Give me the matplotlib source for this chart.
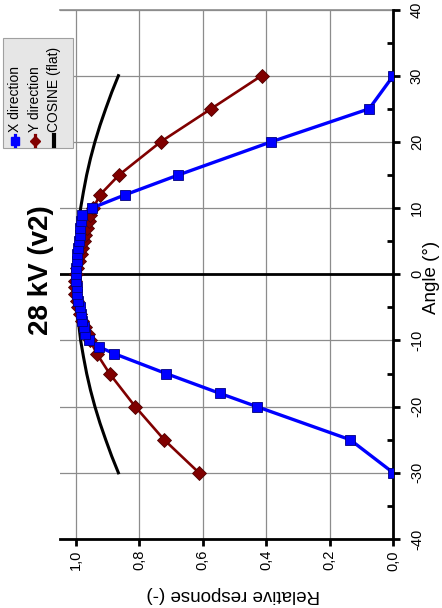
import numpy as np
import matplotlib.pyplot as plt
from matplotlib.lines import Line2D
from matplotlib.patches import Rectangle
from matplotlib.ticker import MultipleLocator, FuncFormatter

plt.rcParams['font.family'] = ['Liberation Sans', 'DejaVu Sans']
plt.rcParams['axes.unicode_minus'] = False

# X direction (blue squares)
x_angle = [-30, -25, -20, -18, -15, -12, -11, -10, -9, -8, -7, -6, -5, -4, -3, -2, -1, 0,
           1, 2, 3, 4, 5, 6, 7, 8, 9, 10, 12, 15, 20, 25, 30]
x_resp = [0.0, 0.136, 0.43, 0.546, 0.716, 0.879, 0.926, 0.96, 0.97, 0.975, 0.98, 0.985, 0.988,
          0.992, 0.995, 0.997, 0.999, 1.0, 0.999, 0.997, 0.995, 0.993, 0.99, 0.988, 0.986,
          0.984, 0.981, 0.95, 0.845, 0.677, 0.385, 0.076, 0.0]

# Y direction (dark red diamonds)
y_angle = [-30, -25, -20, -15, -12, -10, -9, -8, -7, -6, -5, -4, -3, -2, -1, 0,
           1, 2, 3, 4, 5, 6, 7, 8, 9, 10, 12, 15, 20, 25, 30]
y_resp = [0.612, 0.722, 0.813, 0.894, 0.934, 0.955, 0.963, 0.972, 0.98, 0.987, 0.993, 0.998,
          1.002, 1.004, 1.003, 1.0, 0.995, 0.99, 0.985, 0.98, 0.975, 0.97, 0.965, 0.96,
          0.955, 0.945, 0.924, 0.864, 0.733, 0.574, 0.415]

# COSINE (flat)
cos_angle = [-30, -27.5, -25, -22.5, -20, -17.5, -15, -12.5, -10, -7.5, -5, -2.5, 0,
             2.5, 5, 7.5, 10, 12.5, 15, 17.5, 20, 22.5, 25, 27.5, 30]
cos_resp = [0.866, 0.887, 0.906, 0.924, 0.940, 0.954, 0.966, 0.976, 0.985, 0.991, 0.996, 0.999, 1.0,
            0.999, 0.996, 0.991, 0.985, 0.976, 0.966, 0.954, 0.940, 0.924, 0.906, 0.887, 0.866]

W, H = 442, 608
fig = plt.figure(figsize=(W / 100, H / 100), dpi=100)
ax = fig.add_axes([60 / W, 1 - 539 / H, 333.3 / W, 529.5 / H])

# chart is drawn turned a quarter: angle runs up, response runs right-to-left
ax.plot(cos_resp, cos_angle, color='black', lw=2.2, zorder=3)
ax.plot(y_resp, y_angle, color='#800000', lw=1.9, marker='D', ms=6.8,
        mfc='#800000', mec='#500000', mew=0.6, zorder=4)
ax.plot(x_resp, x_angle, color='#0000ff', lw=2.4, marker='s', ms=6.5,
        mfc='#0000ff', mec='#000080', mew=0.6, zorder=5)
ax.axhline(0, color='black', lw=2, zorder=2)

ax.set_xlim(1.05, 0)
ax.set_ylim(-40, 40)

ax.xaxis.set_major_locator(MultipleLocator(0.2))
ax.xaxis.set_major_formatter(FuncFormatter(lambda v, p: f'{v:.1f}'.replace('.', ',')))
ax.yaxis.set_major_locator(MultipleLocator(10))
ax.yaxis.set_minor_locator(MultipleLocator(5))
ax.yaxis.tick_right()

ax.grid(True, which='major', color='#8c8c8c', lw=0.9, zorder=1)

for s in ['left', 'top']:
    ax.spines[s].set_visible(False)
ax.spines['bottom'].set_linewidth(2)
ax.spines['right'].set_linewidth(2)
ax.spines['right'].set_position(('data', 0))
ax.axhline(40, color='#8c8c8c', lw=1.2, clip_on=False, zorder=1)

ax.tick_params(axis='x', which='major', direction='out', length=5, width=2,
               labelsize=10.5, labelrotation=90, pad=3)
ax.tick_params(axis='y', which='major', direction='out', length=5, width=2,
               labelsize=10.5, labelrotation=90, pad=7)
ax.tick_params(axis='y', which='minor', direction='in', length=4.5, width=2)
for lab in ax.get_yticklabels():
    lab.set_va('center')

fig.text(233 / W, 1 - 595 / H, 'Relative response (-)', rotation=180,
         ha='center', va='center', fontsize=13.5)
fig.text(432 / W, 1 - 277 / H, 'Angle (°)', rotation=90,
         ha='center', va='center', fontsize=13.5)
fig.text(41 / W, 1 - 270 / H, '28 kV (v2)', rotation=90, ha='center', va='center',
         fontsize=20, fontweight='bold')

# legend box, drawn turned like the chart
fig.add_artist(Rectangle((3 / W, 1 - 148 / H), 70 / W, 110 / H, transform=fig.transFigure,
                         facecolor='#e6e6e6', edgecolor='#a0a0a0', lw=0.8, zorder=6))
entries = [('X direction', '#0000ff', 's', 15), ('Y direction', '#800000', 'D', 35),
           ('COSINE (flat)', 'black', None, 54)]
for label, col, mk, xp in entries:
    fig.add_artist(Line2D([xp / W, xp / W], [1 - 146 / H, 1 - 135 / H], transform=fig.transFigure,
                          color=col, lw=2.3 if mk else 3, zorder=7))
    if mk:
        fig.add_artist(Line2D([xp / W], [1 - 140.5 / H], transform=fig.transFigure, color=col,
                              marker=mk, ms=5.5, mec=col, zorder=8))
    fig.text(xp / W, 1 - 132 / H, label, rotation=90, ha='center', va='bottom',
             fontsize=10, zorder=8)

fig.savefig('out.png', dpi=100)
